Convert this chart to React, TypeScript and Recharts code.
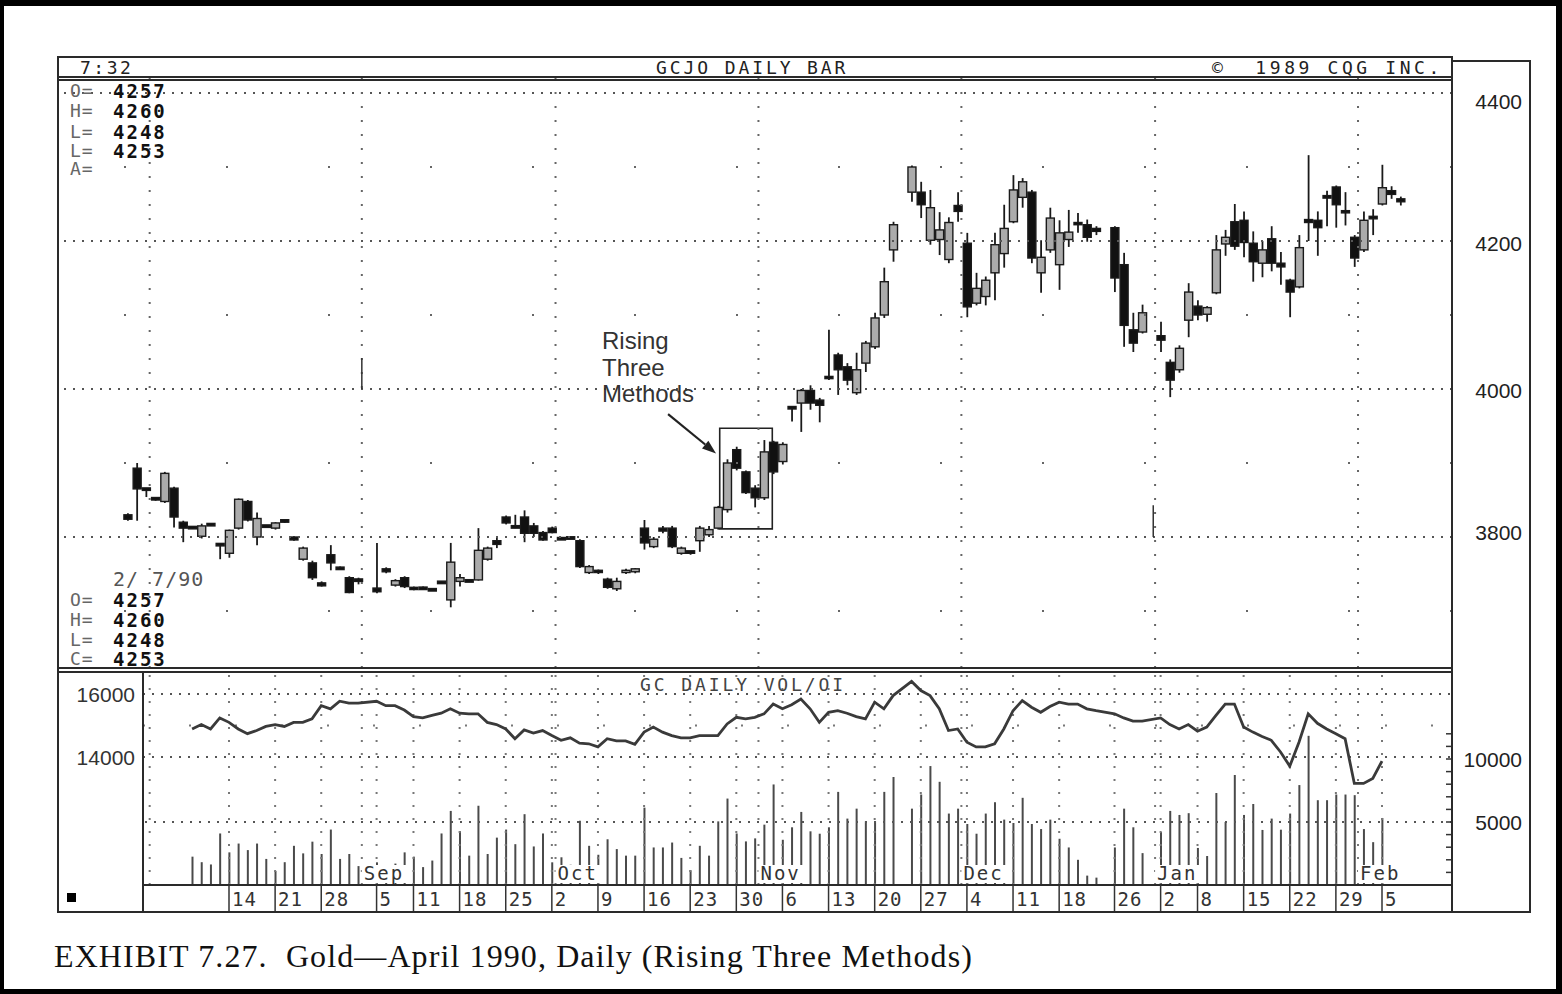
import React from 'react'
import {
  ComposedChart,
  Bar,
  Line,
  XAxis,
  YAxis,
  ReferenceLine,
  ReferenceArea,
} from 'recharts'

// slot 0 = Mon 14 Aug 1989, one slot per weekday, holidays stay empty
const FIRST_SLOT = -11 // Fri 28 Jul 1989

// [open, high, low, close] per weekday, GCJ0 (April 1990 gold)
const OHLC: ([number, number, number, number] | null)[] = [
  [3830, 3832, 3822, 3824],
  // Jul 31 - Aug 4
  [3893, 3900, 3822, 3865], [3865, 3866, 3854, 3864], [3852, 3853, 3849, 3850], [3848, 3888, 3846, 3886], [3866, 3868, 3813, 3827],
  // Aug 7 - 11
  [3820, 3822, 3793, 3812], [3813, 3814, 3811, 3812], [3801, 3818, 3798, 3815], [3816, 3818, 3815, 3817], [3790, 3791, 3770, 3789],
  // Aug 14 - 18
  [3778, 3810, 3772, 3809], [3812, 3852, 3810, 3851], [3848, 3850, 3821, 3823], [3800, 3833, 3789, 3825], [3815, 3816, 3813, 3814],
  // Aug 21 - 25
  [3812, 3820, 3810, 3819], [3820, 3823, 3819, 3822], [3800, 3801, 3795, 3796], [3770, 3787, 3768, 3785], [3765, 3768, 3742, 3745],
  // Aug 28 - Sep 1
  [3738, 3740, 3733, 3734], [3776, 3789, 3755, 3765], [3758, 3760, 3756, 3757], [3745, 3747, 3724, 3725], [3742, 3745, 3736, 3740],
  // Sep 4 - 8
  null, [3731, 3792, 3724, 3726], [3757, 3759, 3751, 3753], [3735, 3743, 3733, 3741], [3745, 3747, 3731, 3733],
  // Sep 11 - 15
  [3732, 3733, 3728, 3729], [3731, 3733, 3729, 3730], [3729, 3730, 3727, 3728], [3738, 3740, 3737, 3739], [3715, 3792, 3705, 3766],
  // Sep 18 - 22
  [3740, 3750, 3733, 3745], [3741, 3742, 3740, 3741], [3742, 3812, 3741, 3782], [3770, 3787, 3768, 3785], [3795, 3800, 3785, 3790],
  // Sep 25 - 29
  [3827, 3829, 3817, 3819], [3813, 3830, 3812, 3814], [3827, 3836, 3793, 3805], [3815, 3819, 3800, 3805], [3806, 3808, 3795, 3796],
  // Oct 2 - 6
  [3812, 3814, 3805, 3806], [3798, 3799, 3796, 3797], [3799, 3800, 3797, 3798], [3795, 3797, 3758, 3760], [3752, 3762, 3750, 3760],
  // Oct 9 - 13
  [3755, 3756, 3750, 3752], [3743, 3745, 3730, 3732], [3730, 3745, 3727, 3740], [3752, 3757, 3750, 3755], [3753, 3758, 3751, 3757],
  // Oct 16 - 20
  [3812, 3823, 3783, 3792], [3787, 3800, 3785, 3797], [3812, 3815, 3805, 3808], [3812, 3815, 3785, 3787], [3778, 3787, 3776, 3785],
  // Oct 23 - 27
  [3780, 3781, 3776, 3780], [3795, 3815, 3780, 3812], [3803, 3815, 3800, 3810], [3812, 3842, 3810, 3840], [3837, 3905, 3833, 3900],
  // Oct 30 - Nov 3
  [3918, 3922, 3890, 3893], [3888, 3890, 3858, 3860], [3866, 3870, 3840, 3853], [3853, 3931, 3850, 3915], [3928, 3930, 3885, 3888],
  // Nov 6 - 10
  [3902, 3928, 3898, 3925], [3975, 3976, 3956, 3975], [3981, 4000, 3942, 3998], [3998, 4005, 3972, 3981], [3985, 3988, 3955, 3978],
  // Nov 13 - 17
  [4017, 4080, 4012, 4014], [4046, 4049, 3992, 4026], [4030, 4035, 4005, 4012], [3995, 4049, 3992, 4026], [4035, 4065, 4023, 4062],
  // Nov 20 - 24
  [4057, 4103, 4054, 4096], [4100, 4164, 4096, 4145], [4188, 4226, 4172, 4222], null, [4266, 4302, 4253, 4300],
  // Nov 27 - Dec 1
  [4266, 4280, 4231, 4249], [4201, 4269, 4195, 4245], [4202, 4239, 4181, 4215], [4175, 4232, 4170, 4225], [4248, 4266, 4226, 4240],
  // Dec 4 - 8
  [4197, 4211, 4097, 4111], [4116, 4157, 4113, 4136], [4125, 4152, 4113, 4147], [4157, 4211, 4120, 4195], [4183, 4249, 4164, 4217],
  // Dec 11 - 15
  [4226, 4289, 4224, 4269], [4259, 4285, 4245, 4280], [4266, 4269, 4170, 4177], [4157, 4201, 4130, 4178], [4188, 4245, 4184, 4231],
  // Dec 18 - 22
  [4168, 4228, 4134, 4211], [4202, 4242, 4192, 4212], [4225, 4238, 4211, 4222], [4222, 4229, 4199, 4205], [4217, 4220, 4208, 4213],
  // Dec 25 - 29
  null, [4218, 4220, 4131, 4150], [4168, 4184, 4057, 4086], [4080, 4103, 4050, 4062], [4077, 4114, 4075, 4103],
  // Jan 1 - 5
  null, [4072, 4091, 4050, 4066], [4036, 4040, 3989, 4012], [4026, 4059, 4022, 4055], [4093, 4143, 4070, 4131],
  // Jan 8 - 12
  [4112, 4120, 4093, 4100], [4101, 4112, 4091, 4110], [4130, 4208, 4128, 4188], [4196, 4215, 4180, 4205], [4226, 4250, 4188, 4193],
  // Jan 15 - 19
  [4228, 4240, 4178, 4198], [4197, 4213, 4145, 4172], [4170, 4200, 4151, 4188], [4203, 4220, 4159, 4170], [4170, 4185, 4141, 4165],
  // Jan 22 - 26
  [4147, 4149, 4097, 4131], [4138, 4208, 4136, 4191], [4229, 4316, 4200, 4225], [4228, 4240, 4180, 4218], [4258, 4268, 4220, 4260],
  // Jan 29 - Feb 2
  [4273, 4275, 4218, 4249], [4241, 4266, 4221, 4238], [4205, 4208, 4165, 4177], [4188, 4240, 4185, 4228], [4230, 4243, 4208, 4232],
  // Feb 5 - 7
  [4250, 4303, 4248, 4272], [4268, 4274, 4257, 4263], [4257, 4260, 4248, 4253],
]

// bad prints left on the tape: [slot, low, high]
const BAD_TICKS: [number, number, number][] = [
  [14.4, 4000, 4042],
  [100.2, 3800, 3843],
]

// GC volume and open interest, first value = Tue 8 Aug 1989
const VOL_FIRST_SLOT = -4
const VOLUME: (number | null)[] = [
  2250, 1810, 1630, 4090,
  2590, 3290, 2770, 3290, 2070,
  1110, 1810, 3110, 2510, 3440,
  2460, 4400, 2070, 2460, 1500,
  null, 1800, 1500, 1700, 2590,
  2250, 1420, 1940, 4090, 5880,
  4270, 2330, 6290, 2460, 3760,
  4400, 3240, 5620, 3060, 4090,
  1800, 2200, 1600, 5100, 3110,
  2400, 3630, 2850, 2330, 2330,
  6140, 2980, 2980, 3370, 2150,
  1170, 3110, 2330, 5050, 6860,
  4090, 3460, 3700, 4790, 7980,
  3590, 4580, 5800, 4260, 4070,
  4580, 7390, 5270, 6060, 5050,
  5050, 7390, 8570, null, 6060,
  7180, 9440, 8190, 5670, 6060,
  4840, 4070, 5670, 6570, 5190,
  4920, 6920, 4840, 4440, 5190,
  3670, 2980, 2000, 745, 585,
  null, 2980, 6060, 4580, 2530,
  null, 4210, 5880, 5560, 5700,
  2940, 2300, 7300, 5000, 8730,
  5560, 6430, 4370, 5270, 4390,
  5670, 7930, 11840, 6730, 6730,
  7180, 7180, 7130, 4440, 3400,
  5320,
]
const OPEN_INT: (number | null)[] = [
  14890, 15030, 14890, 15240,
  15100, 14890, 14740, 14840, 14970,
  15030, 14970, 15100, 15100, 15210,
  15630, 15530, 15770, 15710, 15710,
  null, 15770, 15630, 15630, 15490,
  15280, 15240, 15320, 15390, 15530,
  15390, 15370, 15370, 15100, 15030,
  14890, 14580, 14860, 14760, 14840,
  14680, 14530, 14610, 14440, 14420,
  14320, 14580, 14510, 14510, 14400,
  14790, 14950, 14790, 14680, 14610,
  14610, 14680, 14680, 14680, 15050,
  15260, 15210, 15260, 15370, 15680,
  15530, 15660, 15840, 15530, 15100,
  15420, 15470, 15390, 15280, 15210,
  15740, 15530, 15950, null, 16400,
  16110, 15950, 15530, 14840, 14890,
  14470, 14320, 14320, 14420, 14890,
  15470, 15790, 15580, 15420, 15600,
  15740, 15680, 15680, 15530, 15470,
  null, 15370, 15240, 15140, 15140,
  null, 15240, 15030, 14890, 15030,
  14820, 14950, 15320, 15680, 15680,
  14950, 14790, 14650, 14530, 14160,
  13710, 14470, 15370, 15070, 14890,
  14740, 14580, 13160, 13160, 13320,
  13870,
]

const WEEK_SLOTS = [0, 5, 10, 16, 20, 25, 30, 35, 40, 45, 50, 55, 60, 65, 70, 75, 80, 85, 90, 96, 101, 105, 110, 115, 120, 125]
const WEEK_LABELS = ['14', '21', '28', '5', '11', '18', '25', '2', '9', '16', '23', '30', '6', '13', '20', '27', '4', '11', '18', '26', '2', '8', '15', '22', '29', '5']
const MONTH_SLOTS = [-9, 14, 35, 57, 79, 100, 122]
const MONTH_LABELS = ['', 'Sep', 'Oct', 'Nov', 'Dec', 'Jan', 'Feb']

const PRICE_TICKS = [3800, 4000, 4200, 4400]
const PRICE_HALF = [3700, 3900, 4100, 4300]
const OI_TICKS = [14000, 16000]
const VOL_TICKS = [1000, 2000, 3000, 4000, 5000, 6000, 7000, 8000, 9000, 10000, 11000, 12000]
const VOL_LABELED = [5000, 10000]

// page geometry of the scanned chart
const SLOT_W = 9.224
const SLOT0_X = 229
const slotAt = (px: number) => (px - SLOT0_X) / SLOT_W
const PT_PX = 0.74
const priceAt = (py: number) => 4400 - (py - 93) / PT_PX
const VOL_PX = 63 / 5000
const OI_PX = 63 / 2000
// the printed price labels sit a little off their grid rows
const PRICE_LABEL_DY: Record<number, number> = { 4400: 8, 4200: 2, 4000: 1, 3800: -5 }

const MONO = '"DejaVu Sans Mono", monospace'
const SANS = '"Liberation Sans", Arial, sans-serif'
const INK = '#222'

const priceRows = OHLC.map((d, i) =>
  d ? { slot: FIRST_SLOT + i, ohlc: d, range: [d[2], d[1]] } : null,
).filter(Boolean) as any[]

const volRows = VOLUME.map((v, i) => ({
  slot: VOL_FIRST_SLOT + i,
  vol: v,
  oi: OPEN_INT[i],
}))

function Candle(props: any) {
  const { x, y, width, height, payload } = props
  if (!payload || !payload.ohlc) return null
  const [o, h, l, c] = payload.ohlc
  const top = Math.min(y, y + height)
  const span = Math.abs(height)
  const yOf = (v: number) => top + ((h - v) / (h - l)) * span
  const cx = x + width / 2
  const bTop = yOf(Math.max(o, c))
  const bBot = yOf(Math.min(o, c))
  const flat = bBot - bTop < 2
  const down = c < o
  return (
    <g>
      <line x1={cx} x2={cx} y1={top} y2={top + span} stroke="#1a1a1a" strokeWidth={1.8} />
      <rect
        x={x}
        y={flat ? bTop - 1 : bTop}
        width={width}
        height={flat ? 2.5 : bBot - bTop}
        fill={down || flat ? '#111' : '#ababab'}
        stroke="#1a1a1a"
        strokeWidth={1.4}
      />
    </g>
  )
}

function Arrow(props: any) {
  const { x1, y1, x2, y2 } = props
  const a = Math.atan2(y2 - y1, x2 - x1)
  const L = 14
  const W = 5
  const bx = x2 - L * Math.cos(a)
  const by = y2 - L * Math.sin(a)
  return (
    <g>
      <line x1={x1} y1={y1} x2={bx} y2={by} stroke="#222" strokeWidth={2.2} />
      <polygon
        points={`${x2},${y2} ${bx + W * Math.sin(a)},${by - W * Math.cos(a)} ${bx - W * Math.sin(a)},${by + W * Math.cos(a)}`}
        fill="#222"
      />
    </g>
  )
}

function PriceTick(props: any) {
  const { x, y, payload } = props
  return (
    <text
      x={x + 70}
      y={y + 8 + (PRICE_LABEL_DY[payload.value] ?? 0)}
      textAnchor="end"
      fontSize={21}
      fontFamily={SANS}
      fill={INK}
    >
      {payload.value}
    </text>
  )
}

function OiTick(props: any) {
  const { x, y, payload } = props
  return (
    <text x={x} y={y + 8} textAnchor="end" fontSize={21} fontFamily={SANS} fill="#333">
      {payload.value}
    </text>
  )
}

function VolTick(props: any) {
  const { x, y, payload } = props
  return (
    <g>
      <line x1={x - 6} x2={x} y1={y} y2={y} stroke="#333" strokeWidth={1.5} />
      {VOL_LABELED.includes(payload.value) && (
        <text x={x + 70} y={y + 8} textAnchor="end" fontSize={21} fontFamily={SANS} fill={INK}>
          {payload.value}
        </text>
      )}
    </g>
  )
}

function DateTick(props: any) {
  const { x, y, payload } = props
  const i = WEEK_SLOTS.indexOf(payload.value)
  return (
    <g>
      <line x1={x} x2={x} y1={y} y2={y + 27} stroke="#333" strokeWidth={1.5} />
      <text x={x + 3} y={y + 21} fontSize={19} fontFamily={MONO} fill="#333" letterSpacing={1}>
        {WEEK_LABELS[i]}
      </text>
    </g>
  )
}

function MonthLabel(text: string) {
  return (p: any) =>
    text ? (
      <g>
        <rect x={p.viewBox.x} y={p.viewBox.y + p.viewBox.height - 20} width={text.length * 14 + 4} height={18} fill="#fff" />
        <text
          x={p.viewBox.x + 2}
          y={p.viewBox.y + p.viewBox.height - 5}
          fontSize={19}
          fontFamily={MONO}
          fill="#333"
          letterSpacing={2}
        >
          {text}
        </text>
      </g>
    ) : null
}

const abs = (left: number, top: number, extra: React.CSSProperties = {}): React.CSSProperties => ({
  position: 'absolute',
  left,
  top,
  whiteSpace: 'pre',
  lineHeight: 1,
  ...extra,
})

const hline = (x1: number, x2: number, y: number, w = 2) => (
  <div style={{ position: 'absolute', left: x1, top: y, width: x2 - x1, height: w, background: '#2a2a2a' }} />
)
const vline = (x: number, y1: number, y2: number, w = 2) => (
  <div style={{ position: 'absolute', left: x, top: y1, width: w, height: y2 - y1, background: '#2a2a2a' }} />
)

const readout = { fontFamily: MONO, fontSize: 19, fontWeight: 700, color: '#111', letterSpacing: 2 }
const readLbl = { fontFamily: MONO, fontSize: 18, color: '#666', letterSpacing: 1 }

export default function App() {
  return (
    <div
      style={{
        position: 'absolute',
        left: 0,
        top: 0,
        width: 1562,
        height: 994,
        background: '#fff',
        overflow: 'hidden',
        fontFamily: SANS,
      }}
    >
      {/* price panel */}
      <div style={{ position: 'absolute', left: 58, top: 78 }}>
        <ComposedChart width={1472} height={590} data={priceRows} margin={{ top: 0, right: 0, bottom: 0, left: 0 }}>
          <XAxis dataKey="slot" type="number" domain={[slotAt(58), slotAt(1452)]} allowDataOverflow hide />
          <YAxis
            yAxisId="p"
            orientation="right"
            width={78}
            domain={[priceAt(668), priceAt(78)]}
            allowDataOverflow
            ticks={PRICE_TICKS}
            interval={0}
            tick={<PriceTick />}
            tickSize={0}
            tickMargin={0}
            tickLine={false}
            axisLine={false}
          />
          {PRICE_TICKS.map((p) => (
            <ReferenceLine key={p} yAxisId="p" y={p} stroke="#555" strokeWidth={2} strokeDasharray="2 7" />
          ))}
          {PRICE_HALF.map((p) => (
            <ReferenceLine key={p} yAxisId="p" y={p} stroke="#666" strokeWidth={2} strokeDasharray="2 100" />
          ))}
          {MONTH_SLOTS.map((s) => (
            <ReferenceLine key={s} yAxisId="p" x={s + 0.4} stroke="#666" strokeWidth={2} strokeDasharray="2 12" />
          ))}
          {BAD_TICKS.map(([s, lo, hi]) => (
            <ReferenceLine
              key={s}
              yAxisId="p"
              segment={[{ x: s, y: lo }, { x: s, y: hi }]}
              stroke="#333"
              strokeWidth={1.5}
            />
          ))}
          <ReferenceArea
            yAxisId="p"
            x1={53.2}
            x2={58.9}
            y1={3811}
            y2={3947}
            fill="none"
            fillOpacity={0}
            stroke="#222"
            strokeWidth={1.6}
          />
          <ReferenceLine yAxisId="p" segment={[{ x: 47.6, y: 3966 }, { x: 52.8, y: 3913 }]} shape={Arrow} />
          <Bar yAxisId="p" dataKey="range" barSize={8} shape={(p: any) => <Candle {...p} />} isAnimationActive={false} />
        </ComposedChart>
      </div>

      {/* volume / open interest panel */}
      <div style={{ position: 'absolute', left: 58, top: 672 }}>
        <ComposedChart width={1472} height={240} data={volRows} margin={{ top: 0, right: 0, bottom: 0, left: 0 }}>
          <XAxis
            dataKey="slot"
            type="number"
            domain={[slotAt(143), slotAt(1452)]}
            allowDataOverflow
            ticks={WEEK_SLOTS}
            interval={0}
            height={27}
            tickSize={0}
            tickMargin={0}
            tickLine={false}
            tick={<DateTick />}
            axisLine={{ stroke: '#2a2a2a', strokeWidth: 2 }}
          />
          <YAxis
            yAxisId="oi"
            orientation="left"
            width={85}
            domain={[16000 - 191 / OI_PX, 16000 + 22 / OI_PX]}
            allowDataOverflow
            ticks={OI_TICKS}
            interval={0}
            tick={<OiTick />}
            tickSize={0}
            tickMargin={8}
            tickLine={false}
            axisLine={false}
          />
          <YAxis
            yAxisId="vol"
            orientation="right"
            width={78}
            domain={[0, 213 / VOL_PX]}
            allowDataOverflow
            ticks={VOL_TICKS}
            interval={0}
            tick={<VolTick />}
            tickSize={0}
            tickMargin={0}
            tickLine={false}
            axisLine={false}
          />
          {OI_TICKS.map((v) => (
            <ReferenceLine key={v} yAxisId="oi" y={v} stroke="#555" strokeWidth={2} strokeDasharray="2 7" />
          ))}
          <ReferenceLine yAxisId="oi" y={15000} stroke="#777" strokeWidth={2} strokeDasharray="2 44" />
          <ReferenceLine yAxisId="vol" y={5000} stroke="#555" strokeWidth={2} strokeDasharray="2 7" />
          {WEEK_SLOTS.map((s) => (
            <ReferenceLine key={s} yAxisId="vol" x={s} stroke="#777" strokeWidth={2} strokeDasharray="2 11" />
          ))}
          {MONTH_SLOTS.map((s, i) => (
            <ReferenceLine
              key={'m' + s}
              yAxisId="vol"
              x={s + 0.4}
              stroke="#777"
              strokeWidth={2}
              strokeDasharray="2 11"
              label={MonthLabel(MONTH_LABELS[i])}
            />
          ))}
          <Bar yAxisId="vol" dataKey="vol" barSize={2} fill="#4a4a4a" isAnimationActive={false} />
          <Line
            yAxisId="oi"
            dataKey="oi"
            type="linear"
            stroke="#3a3a3a"
            strokeWidth={2.8}
            dot={false}
            connectNulls
            isAnimationActive={false}
          />
        </ComposedChart>
      </div>

      {/* frames */}
      {hline(57, 1452, 56)}
      {hline(58, 1452, 76, 1.5)}
      {hline(58, 1452, 79, 1.5)}
      {hline(58, 1452, 667, 2)}
      {hline(58, 1452, 671, 2)}
      {hline(57, 1531, 911)}
      {hline(1452, 1531, 60)}
      {vline(57, 56, 913)}
      {vline(1451, 56, 913)}
      {vline(1529, 60, 913)}
      {vline(142, 672, 912)}
      <div style={{ position: 'absolute', left: 67, top: 893, width: 9, height: 9, background: '#000' }} />

      {/* header strip */}
      <div style={abs(80, 59, { fontFamily: MONO, fontSize: 18, letterSpacing: 2.5, color: INK })}>7:32</div>
      <div style={abs(656, 59, { fontFamily: MONO, fontSize: 18, letterSpacing: 2.9, color: INK })}>GCJO DAILY BAR</div>
      <div style={abs(1212, 59, { fontFamily: MONO, fontSize: 18, letterSpacing: 3.6, color: INK })}>©  1989 CQG INC.</div>
      <div style={abs(640, 676, { fontFamily: MONO, fontSize: 18, letterSpacing: 2.9, color: '#444' })}>GC DAILY VOL/OI</div>

      {/* quote readouts */}
      {[
        ['O=', '4257', 82],
        ['H=', '4260', 102],
        ['L=', '4248', 123],
        ['L=', '4253', 142],
        ['A=', '', 160],
      ].map(([l, v, t]) => (
        <React.Fragment key={String(t)}>
          <div style={abs(70, t as number, readLbl)}>{l}</div>
          <div style={abs(113, t as number, readout)}>{v}</div>
        </React.Fragment>
      ))}
      <div style={abs(113, 569, { ...readLbl, fontSize: 20, color: '#555' })}>2/ 7/90</div>
      {[
        ['O=', '4257', 591],
        ['H=', '4260', 611],
        ['L=', '4248', 631],
        ['C=', '4253', 650],
      ].map(([l, v, t]) => (
        <React.Fragment key={String(t)}>
          <div style={abs(70, t as number, readLbl)}>{l}</div>
          <div style={abs(113, t as number, readout)}>{v}</div>
        </React.Fragment>
      ))}

      {/* annotation */}
      <div style={abs(602, 328, { fontFamily: SANS, fontSize: 24, lineHeight: '26.5px', color: '#333' })}>
        {'Rising\nThree\nMethods'}
      </div>

      {/* caption */}
      <div
        style={abs(54, 940, {
          fontFamily: '"Liberation Serif", "Times New Roman", serif',
          fontSize: 32,
          letterSpacing: 1.1,
          color: '#111',
        })}
      >
        {'EXHIBIT 7.27.  Gold\u2014April 1990, Daily (Rising Three Methods)'}
      </div>

      {/* outer page frame */}
      <div
        style={{
          position: 'absolute',
          left: 0,
          top: 0,
          width: 1562,
          height: 994,
          boxSizing: 'border-box',
          borderStyle: 'solid',
          borderColor: '#000',
          borderWidth: '6px 6px 5px 4px',
        }}
      />
    </div>
  )
}
